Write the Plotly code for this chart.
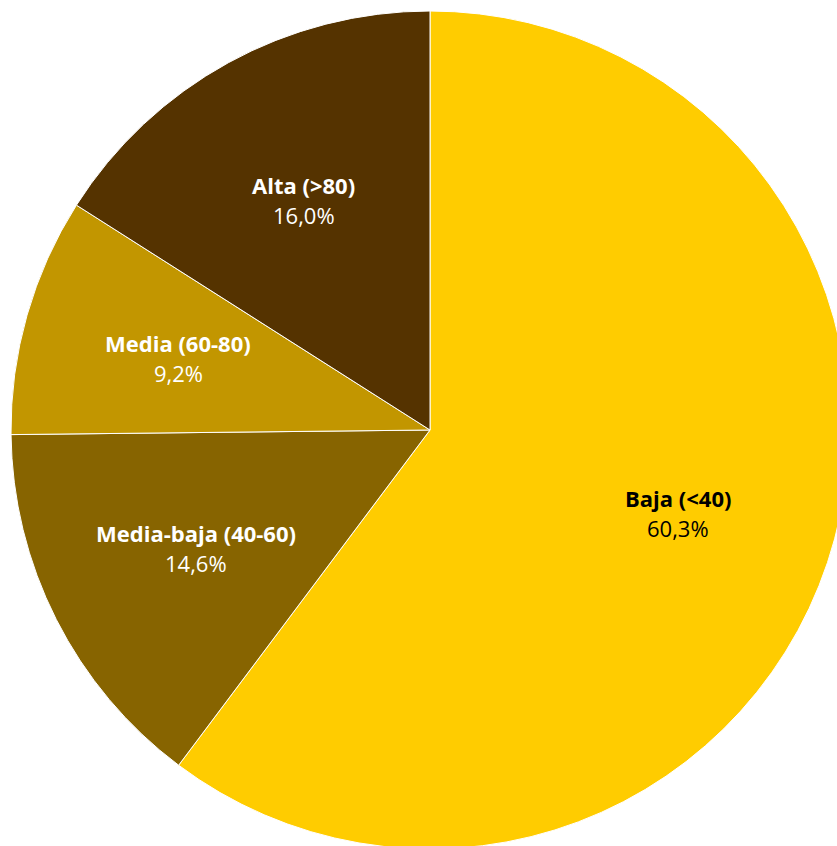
import math
import plotly.graph_objects as go

# Distribution of records by level
categories = ["Baja (<40)", "Media-baja (40-60)", "Media (60-80)", "Alta (>80)"]
shares = [60.3, 14.6, 9.2, 16.0]
slice_colors = ["#FFCC00", "#876400", "#C29600", "#553300"]
text_colors = ["#000000", "#FFFFFF", "#FFFFFF", "#FFFFFF"]

W, H = 870, 870
CX, CY, R = 430, 430, 419  # pie centre (px from top-left) and radius

fig = go.Figure(
    go.Pie(
        labels=categories,
        values=shares,
        sort=False,
        direction="clockwise",
        rotation=0,
        marker=dict(colors=slice_colors, line=dict(color="#FFFFFF", width=1)),
        textinfo="none",
        hoverinfo="label+percent",
        showlegend=False,
        domain=dict(x=[(CX - R) / W, (CX + R) / W],
                    y=[(H - CY - R) / H, (H - CY + R) / H]),
    )
)

# Labels placed at each slice's mid-angle, ~62% of the radius out
total = sum(shares)
cum = 0.0
for name, val, col in zip(categories, shares, text_colors):
    mid = (cum + val / 2) / total * 2 * math.pi
    cum += val
    r = 0.625 * R
    px = CX + r * math.sin(mid)
    py = CY - r * math.cos(mid)
    xp = px / W
    yp = 1 - py / H
    pct = f"{val:.1f}".replace(".", ",") + "%"
    fig.add_annotation(x=xp, y=yp, xref="paper", yref="paper", text=f"<b>{name}</b>",
                       showarrow=False, yshift=15, xanchor="center", yanchor="middle",
                       font=dict(family="Open Sans", size=22, color=col))
    fig.add_annotation(x=xp, y=yp, xref="paper", yref="paper", text=pct,
                       showarrow=False, yshift=-15, xanchor="center", yanchor="middle",
                       font=dict(family="Open Sans", size=22, color=col))

fig.update_layout(
    width=W, height=H,
    margin=dict(l=0, r=0, t=0, b=0),
    paper_bgcolor="#FFFFFF",
    plot_bgcolor="#FFFFFF",
)

fig.write_html(
    "out.html",
    post_script="document.documentElement.style.overflow='hidden';document.body.style.overflow='hidden';document.body.style.margin='0';",
)
